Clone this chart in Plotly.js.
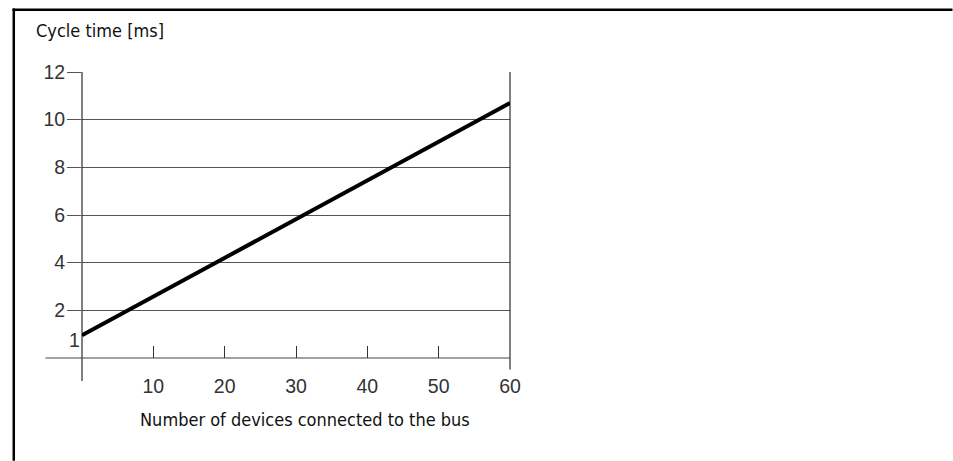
<!DOCTYPE html>
<html>
<head>
<meta charset="utf-8">
<script src="https://cdn.plot.ly/plotly-3.0.1.min.js"></script>
<style>
html,body{margin:0;padding:0;background:#fff;}
#chart{width:953px;height:461px;}
</style>
</head>
<body>
<div id="chart"></div>
<script>
// ---- data ----
var devices = [0, 60];
var cycleTimeMs = [0.95, 10.7];
var xTickVals = [10, 20, 30, 40, 50, 60];
var yTickVals = [2, 4, 6, 8, 10, 12];
var yExtraLabel = "1";
var yTitle = "Cycle time [ms]";
var xTitle = "Number of devices connected to the bus";

// ---- layout geometry (pixels) ----
var W = 953, H = 461;
var L = 81.5, R = 510, T = 71.5, B = 358;
var PW = R - L, PH = B - T;
function px(p){ return (p - L) / PW; }
function py(p){ return (B - p) / PH; }

var narrow = "Liberation Sans Narrow, DejaVu Sans Condensed, sans-serif";
function tickFont(){ return {family: "Liberation Sans, Arial, sans-serif", size: 19.5, color: "#333"}; }

var trace = {
  x: devices, y: cycleTimeMs, type: 'scatter', mode: 'lines',
  line: {color: '#000', width: 4}, hoverinfo: 'skip', showlegend: false
};

var lineStyle = {color: '#000', width: 1};
var shapes = [
  {type:'line', xref:'paper', yref:'paper', x0:px(12), x1:px(953), y0:py(9.2), y1:py(9.2), line:{color:'#000', width:2.5}},
  {type:'line', xref:'paper', yref:'paper', x0:px(13.2), x1:px(13.2), y0:py(8), y1:py(461), line:{color:'#000', width:2.5}},
  {type:'line', xref:'paper', yref:'paper', x0:0, x1:0, y0:py(381), y1:1, line:lineStyle},
  {type:'line', xref:'paper', yref:'paper', x0:1, x1:1, y0:py(369.5), y1:1, line:lineStyle},
  {type:'line', xref:'paper', yref:'paper', x0:px(45), x1:1, y0:0, y1:0, line:{color:'#444', width:1.2}}
];

var annotations = [
  {xref:'paper', yref:'paper', x:px(33), y:py(30), xanchor:'left', yanchor:'middle', showarrow:false,
   text:yTitle, font:{family:narrow, size:18, color:'#111'}},
  {xref:'paper', yref:'paper', x:px(305), y:py(420), xanchor:'center', yanchor:'middle', showarrow:false,
   text:xTitle, font:{family:narrow, size:18, color:'#111'}},
  {xref:'x', yref:'y', x:0, y:1, xanchor:'right', yanchor:'middle', xshift:0, yshift:-6, showarrow:false,
   text:yExtraLabel, font:tickFont()}
];

var layout = {
  width: W, height: H,
  margin: {l: L, r: W - R, t: T, b: H - B, pad: 0},
  paper_bgcolor: '#fff', plot_bgcolor: '#fff',
  showlegend: false,
  xaxis: {
    range: [0, 60], tickvals: xTickVals, ticktext: xTickVals.map(String),
    ticks: 'inside', ticklen: 12, tickwidth: 1, tickcolor: '#333',
    showgrid: false, zeroline: false, showline: false,
    tickfont: tickFont(), ticklabelstandoff: 14, fixedrange: true
  },
  yaxis: {
    range: [0, 12], tickvals: yTickVals, ticktext: yTickVals.map(String),
    ticks: 'outside', ticklen: 14, tickwidth: 1, tickcolor: '#555',
    showgrid: true, gridcolor: '#555', gridwidth: 1,
    zeroline: false, showline: false,
    tickfont: tickFont(), ticklabelstandoff: -2, fixedrange: true
  },
  shapes: shapes,
  annotations: annotations
};

Plotly.newPlot('chart', [trace], layout, {displayModeBar: false, staticPlot: true});
</script>
</body>
</html>
